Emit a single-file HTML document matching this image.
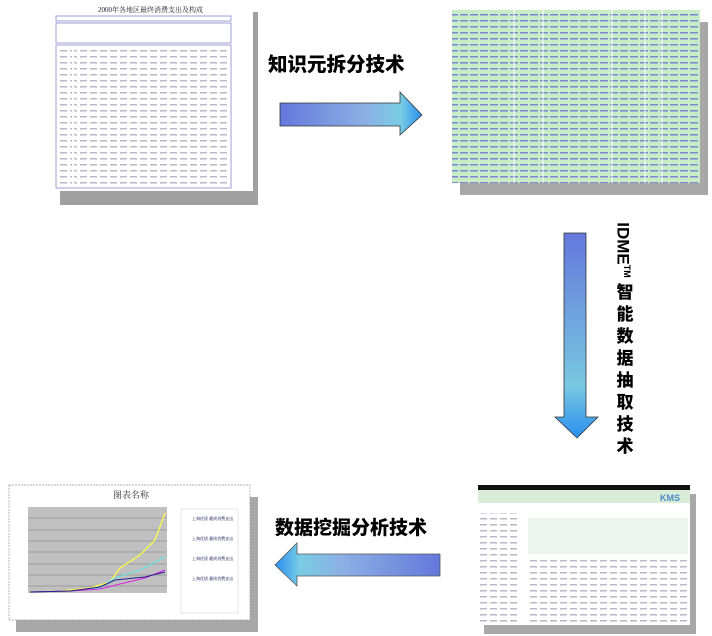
<!DOCTYPE html>
<html><head><meta charset="utf-8"><style>
body{margin:0;width:712px;height:636px;background:#fff;overflow:hidden;position:relative;font-family:"Liberation Sans","Noto Sans CJK SC",sans-serif}
.t{position:absolute;font-weight:900;font-size:19px;color:#000;letter-spacing:0px;font-family:"Noto Sans CJK SC","WenQuanYi Zen Hei",sans-serif}
</style></head><body>
<svg width="712" height="636" style="position:absolute;left:0;top:0">
<defs>
<linearGradient id="ga" x1="0" x2="1" y1="0" y2="0"><stop offset="0" stop-color="#6478dc"/><stop offset="0.6" stop-color="#8cb0e4"/><stop offset="0.85" stop-color="#78cce4"/><stop offset="1" stop-color="#2a8ef0"/></linearGradient>
<linearGradient id="gb" x1="1" x2="0" y1="0" y2="0"><stop offset="0" stop-color="#6478dc"/><stop offset="0.6" stop-color="#8cb0e4"/><stop offset="0.85" stop-color="#78cce4"/><stop offset="1" stop-color="#2a8ef0"/></linearGradient>
<linearGradient id="gc" x1="0" x2="0" y1="0" y2="1"><stop offset="0" stop-color="#6478dc"/><stop offset="0.75" stop-color="#78c8e0"/><stop offset="1" stop-color="#2a8ef0"/></linearGradient>
<pattern id="rows" width="10" height="6" patternUnits="userSpaceOnUse"><rect width="10" height="6" fill="#fff"/><rect y="2" width="7" height="1.5" fill="#b8b8c8"/></pattern>
<pattern id="grows" width="10" height="6" patternUnits="userSpaceOnUse"><rect width="10" height="6" fill="#c8ecc8"/><rect y="2" width="8" height="1.5" fill="#7a88d0"/></pattern>
</defs>
<rect x="60" y="12" width="198" height="193" fill="#a0a0a0"/>
<rect x="55" y="3" width="198" height="188" fill="#fff"/>
<text x="98" y="12" font-size="7" fill="#223" font-family="Liberation Serif,Noto Serif CJK SC,serif">2000年各地区最终消费支出及构成</text>
<rect x="56" y="16" width="175" height="5" fill="none" stroke="#8888cc" stroke-width="0.8"/>
<rect x="56" y="23" width="175" height="20" fill="none" stroke="#8888cc" stroke-width="0.8"/>
<rect x="56" y="45" width="175" height="143" fill="none" stroke="#8888cc" stroke-width="0.8"/>
<rect x="74" y="47" width="155" height="138" fill="url(#rows)"/>
<rect x="58" y="47" width="14" height="138" fill="url(#rows)"/>
<rect x="460" y="22" width="248" height="173" fill="#a8a8a8"/>
<rect x="452" y="10" width="248" height="173" fill="url(#grows)"/>
<line x1="514" y1="10" x2="514" y2="183" stroke="#fff"/><line x1="543" y1="10" x2="543" y2="183" stroke="#fff"/><line x1="612" y1="10" x2="612" y2="183" stroke="#fff"/><line x1="645" y1="10" x2="645" y2="183" stroke="#fff"/><line x1="662" y1="10" x2="662" y2="183" stroke="#fff"/>
<path d="M280 103 H400 V92 L422 115 L400 135 V126 H280 Z" fill="url(#ga)" stroke="#333" stroke-width="0.8"/>
<path d="M564 233 H586 V417 H598 L577 438 L555 417 H564 Z" fill="url(#gc)" stroke="#333" stroke-width="0.8"/>
<path d="M440 554 H297 V543 L275 565 L297 586 V576 H440 Z" fill="url(#gb)" stroke="#555" stroke-width="0.8"/>
<rect x="484" y="494" width="212" height="140" fill="#a8a8a8"/>
<rect x="478" y="485" width="212" height="140" fill="#fff"/>
<rect x="478" y="485" width="212" height="5" fill="#111"/>
<rect x="478" y="490" width="212" height="13" fill="#d8ecd8"/>
<text x="660" y="501" font-size="9" fill="#4a8ac8" font-weight="bold">KMS</text>
<rect x="480" y="513" width="40" height="112" fill="url(#rows)"/>
<rect x="528" y="518" width="160" height="36" fill="#eef4ee"/>
<rect x="528" y="560" width="160" height="65" fill="url(#rows)"/>
<rect x="16" y="497" width="242" height="135" fill="#a8a8a8"/>
<rect x="9" y="485" width="241" height="135" fill="#fff" stroke="#999" stroke-dasharray="2 1" stroke-width="0.7"/>
<text x="113" y="498" font-size="9" fill="#333" font-family="Liberation Serif,Noto Serif CJK SC,serif">图表名称</text>
<rect x="28" y="507" width="139" height="86" fill="#c0c0c0"/>
<g stroke="#777" stroke-width="0.5"><line x1="28" y1="518" x2="167" y2="518"/><line x1="28" y1="530" x2="167" y2="530"/><line x1="28" y1="541" x2="167" y2="541"/><line x1="28" y1="552" x2="167" y2="552"/><line x1="28" y1="564" x2="167" y2="564"/><line x1="28" y1="575" x2="167" y2="575"/><line x1="28" y1="586" x2="167" y2="586"/></g>
<polyline points="30,592 60,591 90,588 110,582 120,568 140,555 155,540 165,513" fill="none" stroke="#ffff40" stroke-width="1.2"/>
<polyline points="30,592 70,591 100,588 115,578 140,570 165,557" fill="none" stroke="#60e8e8" stroke-width="1"/>
<polyline points="30,592 70,591 100,589 120,584 145,578 165,570" fill="none" stroke="#e020e0" stroke-width="1"/>
<polyline points="30,592 70,591 100,587 115,580 145,577 165,572" fill="none" stroke="#202090" stroke-width="1"/>
<rect x="181" y="509" width="57" height="104" fill="#fff" stroke="#ccc" stroke-width="0.5"/>
<g font-size="4" fill="#336"><text x="192" y="520">上海优质 最终消费支出</text><text x="192" y="540">上海优质 最终消费支出</text><text x="192" y="560">上海优质 最终消费支出</text><text x="192" y="580">上海优质 最终消费支出</text></g>
</svg>
<div class="t" style="left:268px;top:48px;font-size:19.5px">知识元拆分技术</div>
<div class="t" style="left:275px;top:513px">数据挖掘分析技术</div>
<div class="t" style="left:614px;top:220px;width:22px;line-height:22px;text-align:center;font-size:17px">
<div style="transform:rotate(90deg);height:60px;width:22px;display:flex;align-items:center;justify-content:center"><span style="white-space:nowrap;font-family:'Liberation Sans',sans-serif">IDME<sup style="font-size:9px">TM</sup></span></div>
智<br>能<br>数<br>据<br>抽<br>取<br>技<br>术</div>
</body></html>
